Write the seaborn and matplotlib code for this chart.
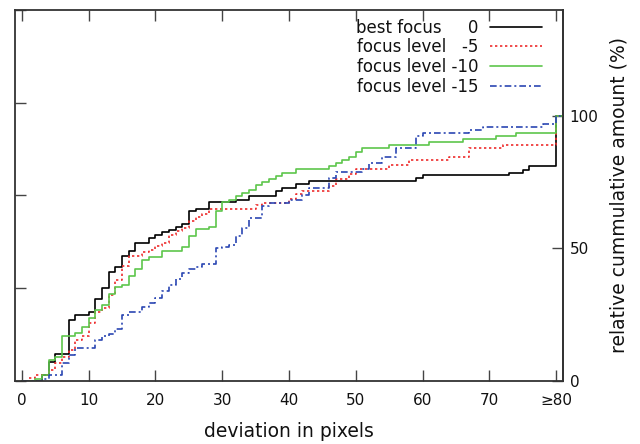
import matplotlib
matplotlib.use("Agg")
import matplotlib.pyplot as plt
import seaborn as sns
import pandas as pd

# ---- data (step positions in pixels, cumulative percent after each step) ----
black_x = [0, 3, 4, 5, 7, 8, 10, 11, 12, 13, 14, 15, 16, 17, 19, 20, 21, 22, 23, 24, 25, 26, 28, 32,
           34, 38, 39, 41, 43, 59, 60, 73, 75, 76, 80, 81]
black_y = [0, 2, 7, 10, 23, 25, 26, 31, 35, 41, 43, 47, 49, 52, 54, 55, 56, 57, 58, 59, 64, 65, 67.3, 68.4,
           69.7, 71.6, 72.9, 74.4, 75.4, 76.4, 77.5, 78.3, 79.7, 81, 100, 100]

red_x = [0, 1, 2, 4, 5, 6, 7, 8, 9, 10, 11, 12, 13, 14, 15, 16, 18, 19, 20, 21, 22, 23, 24, 25, 26, 27,
         28, 35, 36, 40, 41, 42, 46, 47, 49, 50, 55, 58, 64, 67, 72, 80, 81]
red_y = [0, 1, 2, 4, 6.6, 9, 11.6, 15.4, 16.7, 21.7, 26.1, 27.4, 32.5, 38.1, 43.2, 47, 48.5, 49.5, 50.8,
         52, 55, 56.5, 57.5, 60.5, 61.8, 63, 65, 66.2, 67.2, 68.6, 70.5, 71.6, 73.7, 76.3, 77.9, 79.8,
         81.5, 83.2, 84.4, 87.8, 89, 100, 100]

green_x = [0, 2, 3, 4, 5, 6, 8, 9, 10, 11, 12, 13, 14, 15, 16, 17, 18, 19, 21, 24, 25, 26, 28, 29, 30,
           31, 32, 33, 34, 35, 36, 37, 38, 39, 41, 46, 47, 48, 49, 50, 51, 55, 61, 66, 71, 74, 80, 81]
green_y = [0, 0.6, 2.2, 7.8, 9.1, 17, 18, 20.3, 23.5, 26.8, 28.7, 32.8, 35.4, 36.2, 39.7, 42, 45.4, 46.7,
           49.1, 50.5, 54.6, 57.2, 58.2, 64, 67.4, 68.4, 69.7, 70.7, 72, 73.8, 74.9, 76.1, 77.2, 78.4,
           79.8, 81, 82.3, 83.2, 84.4, 86.5, 87.7, 88.9, 90.2, 91.2, 92.4, 93.5, 100, 100]

blue_x = [0, 3, 4, 6, 7, 8, 11, 12, 13, 14, 15, 16, 18, 19, 20, 21, 22, 23, 24, 25, 26, 27, 29, 30, 31,
          32, 33, 34, 36, 37, 40, 42, 43, 46, 47, 51, 52, 54, 56, 59, 60, 67, 69, 78, 80, 81]
blue_y = [0, 0.6, 2.2, 6.8, 9.6, 12.5, 15.3, 16.7, 17.8, 19.5, 24.9, 26.1, 28, 29.3, 31.4, 34, 36.3,
          38.5, 40.7, 42.3, 43, 44.2, 50, 50.5, 51.4, 54.5, 57.7, 61.5, 66, 67, 68.4, 70.3, 72.9, 76.6,
          78.8, 79.8, 82.3, 84.5, 87.8, 92.4, 93.4, 94.6, 95.7, 96.8, 100, 100]

labels = ["best focus     0", "focus level   -5", "focus level -10", "focus level -15"]
x_ticks = [0, 10, 20, 30, 40, 50, 60, 70, 80]
x_ticklabels = ["0", "10", "20", "30", "40", "50", "60", "70", "≥80"]
right_ticks = [0, 50, 100]
left_ticks = [0, 35, 70, 105, 140]

# ---- figure ----
sns.set_style("white")
plt.rcParams["font.family"] = ["DejaVu Sans"]
plt.rcParams["text.color"] = "#111111"
plt.rcParams["axes.labelcolor"] = "#111111"
plt.rcParams["xtick.color"] = "#111111"
plt.rcParams["ytick.color"] = "#111111"
fig = plt.figure(figsize=(6.4, 4.44), dpi=100)
ax = fig.add_axes([15.3 / 640, 1 - 380.7 / 444, (562.7 - 15.3) / 640, (380.7 - 10) / 444])

series = [
    (black_x, black_y, "#000000", None),
    (red_x, red_y, "#ee2c2c", (1.4, 1.6)),
    (green_x, green_y, "#5dc64c", None),
    (blue_x, blue_y, "#2b47b3", (4.0, 1.8, 1.2, 1.8)),
]
for (xs, ys, col, dash), lab in zip(series, labels):
    df = pd.DataFrame({"x": xs, "y": ys})
    kw = dict(color=col, linewidth=1.2, drawstyle="steps-post", label=lab)
    if dash is not None:
        kw["dashes"] = dash
    sns.lineplot(data=df, x="x", y="y", ax=ax, sort=False, estimator=None, **kw)

ax.set_xlim(-1, 81)
ax.set_ylim(0, 140)
ax.set_xticks(x_ticks)
ax.set_xticklabels(x_ticklabels, fontsize=11)
ax.set_yticks(left_ticks)
ax.set_yticklabels([])
ax.tick_params(axis="both", direction="in", length=8, width=1, color="#444444",
               top=True, bottom=True, left=True, right=False, labeltop=False)
ax.tick_params(axis="x", pad=9)
for s in ax.spines.values():
    s.set_linewidth(1.3)
    s.set_color("#333333")

sec = ax.secondary_yaxis("right")
sec.set_yticks(right_ticks)
sec.set_yticklabels([str(t) for t in right_ticks], fontsize=11)
sec.tick_params(direction="in", length=8, width=1, color="#444444", pad=5, right=True)
sec.spines["right"].set_linewidth(1.3)
sec.spines["right"].set_color("#333333")
sec.set_ylabel("relative cummulative amount (%)", fontsize=13.5, labelpad=8)

ax.set_xlabel("deviation in pixels", fontsize=13.5, labelpad=10)
ax.set_ylabel("")

leg = ax.legend(loc="upper right", bbox_to_anchor=((541.7 - 15.3) / 547.4, 0.977),
                frameon=False, markerfirst=False, fontsize=12, handlelength=3.1,
                handletextpad=0.7, labelspacing=0.1, borderaxespad=0, borderpad=0)

fig.savefig("out.png", dpi=100)
